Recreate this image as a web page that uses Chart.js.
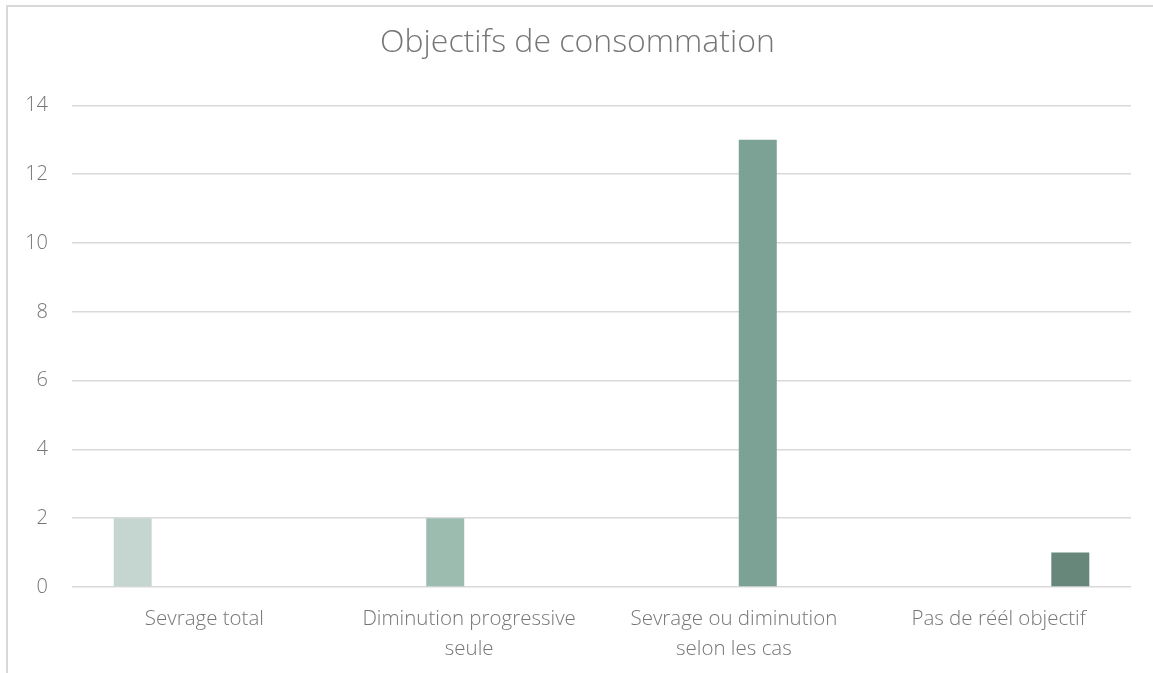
<!DOCTYPE html>
<html lang="fr">
<head>
<meta charset="utf-8">
<title>Objectifs de consommation</title>
<script src="https://cdn.jsdelivr.net/npm/chart.js@4"></script>
<style>
    html, body { margin: 0; padding: 0; background: #fff; overflow: hidden; }
    .frame {
        position: absolute; left: 6px; top: 5px; width: 1170px; height: 690px;
        border-top: 2px solid #d9d9d9; border-left: 2px solid #d9d9d9;
    }
    .wrap { position: absolute; left: 0; top: 0; width: 1153px; height: 673px; }
</style>
</head>
<body>
<div class="frame"></div>
<div class="wrap"><canvas id="objChart"></canvas></div>
<script>
// Données
const categories = [
    'Sevrage total',
    ['Diminution progressive', 'seule'],
    ['Sevrage ou diminution', 'selon les cas'],
    'Pas de réél objectif'
];
const serieSevrage = [2, 0, 0, 0];
const serieDiminution = [0, 2, 0, 0];
const serieSelonCas = [0, 0, 13, 0];
const seriePasObjectif = [0, 0, 0, 1];
const yTicks = [0, 2, 4, 6, 8, 10, 12, 14];

const textColor = '#767676';
const gridColor = '#d9d9d9';
const fontFamily = '"Open Sans", "Noto Sans", sans-serif';

document.addEventListener('DOMContentLoaded', function() {
    const ctx = document.getElementById('objChart');
    new Chart(ctx, {
        type: 'bar',
        data: {
            labels: categories,
            datasets: [{
                label: 'Sevrage total',
                data: serieSevrage,
                backgroundColor: '#c4d6cf'
            }, {
                label: 'Diminution progressive seule',
                data: serieDiminution,
                backgroundColor: '#9cbcb0'
            }, {
                label: 'Sevrage ou diminution selon les cas',
                data: serieSelonCas,
                backgroundColor: '#7ba295'
            }, {
                label: 'Pas de réél objectif',
                data: seriePasObjectif,
                backgroundColor: '#668779'
            }]
        },
        options: {
            responsive: true,
            maintainAspectRatio: false,
            animation: false,
            categoryPercentage: 0.722,
            barPercentage: 0.795,
            layout: {
                // un peu de marge à gauche pour recentrer le titre
                padding: { left: 24, right: 22, top: 0, bottom: 0 }
            },
            plugins: {
                legend: { display: false },
                tooltip: { enabled: false },
                title: {
                    display: true,
                    text: 'Objectifs de consommation',
                    color: textColor,
                    font: { family: fontFamily, size: 32, weight: 300, lineHeight: 1.2 },
                    padding: { top: 24, bottom: 43 }
                }
            },
            scales: {
                x: {
                    grid: { display: false, drawTicks: false },
                    border: { display: false },
                    afterFit: function(scale) { scale.height = 86; },
                    ticks: {
                        color: textColor,
                        padding: 18,
                        maxRotation: 0,
                        autoSkip: false,
                        font: { family: fontFamily, size: 20.5, weight: 300, lineHeight: 1.42 }
                    }
                },
                y: {
                    min: 0,
                    max: 14,
                    afterFit: function(scale) { scale.width = 48; },
                    afterBuildTicks: function(scale) {
                        scale.ticks = yTicks.map(v => ({ value: v }));
                    },
                    grid: { color: gridColor, lineWidth: 1.5, drawTicks: false },
                    border: { display: false },
                    ticks: {
                        color: textColor,
                        padding: 24,
                        font: { family: fontFamily, size: 20, weight: 300 }
                    }
                }
            }
        }
    });
});
</script>
</body>
</html>
